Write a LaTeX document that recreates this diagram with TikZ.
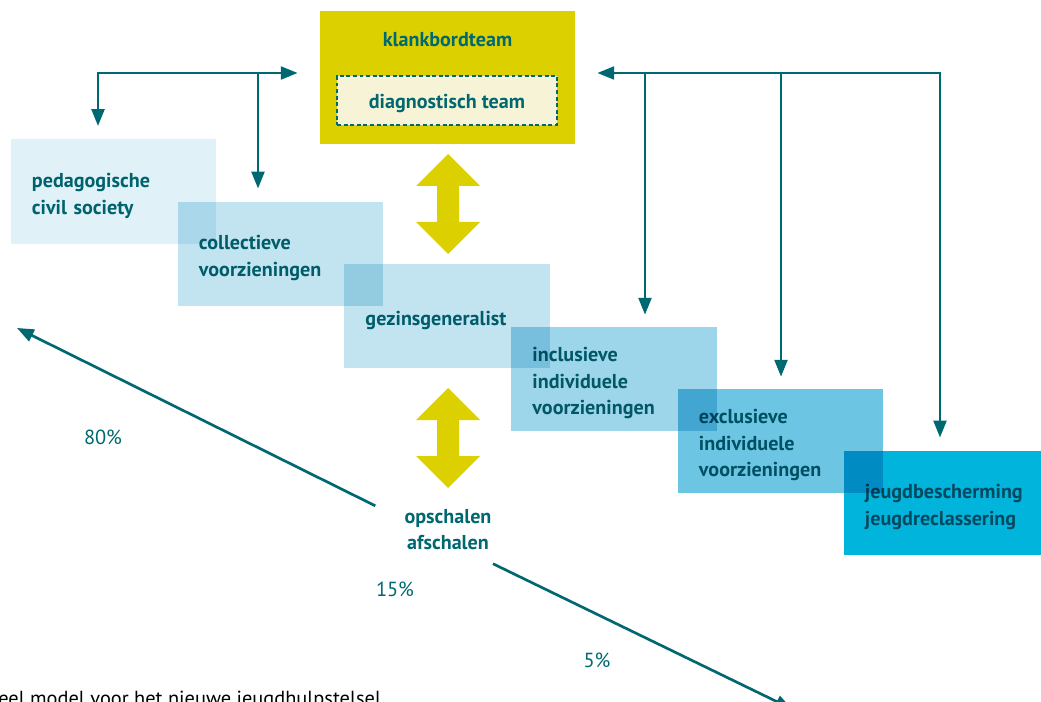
\documentclass[tikz,border=0pt]{standalone}
\usepackage{fontspec}
\setmainfont{PT Sans}
\usetikzlibrary{arrows.meta, calc}
\definecolor{lineteal}{RGB}{0,104,112}
\definecolor{boardyellow}{RGB}{221,208,0}
\definecolor{diagcream}{RGB}{247,243,214}
\definecolor{tierA}{RGB}{224,241,248}
\definecolor{tierB}{RGB}{194,228,240}
\definecolor{tierC}{RGB}{157,214,234}
\definecolor{tierD}{RGB}{108,198,227}
\definecolor{tierE}{RGB}{0,180,220}
\tikzset{
    tier/.style={rectangle, minimum width=5.125cm, minimum height=2.6cm, text width=4.075cm, inner xsep=0.525cm, align=left, text=lineteal, font=\bfseries\fontsize{14.3}{19}\selectfont, blend mode=multiply, execute at begin node={\rule{0pt}{16pt}}},
    boardbox/.style={rectangle, fill=boardyellow, minimum width=6.375cm, minimum height=3.325cm},
    boardlabel/.style={text=lineteal, font=\bfseries\fontsize{14.3}{19}\selectfont},
    diagbox/.style={rectangle, fill=diagcream, draw=lineteal, line width=1pt, dash pattern=on 2.8pt off 1.9pt, minimum width=5.5cm, minimum height=1.225cm, text=lineteal, text height=10.8pt, text depth=0pt, font=\bfseries\fontsize{14.3}{19}\selectfont},
    scalelabel/.style={align=center, text=lineteal, font=\bfseries\fontsize{14.3}{19}\selectfont},
    share/.style={text=lineteal, font=\fontsize{14.5}{17}\selectfont},
    feed/.style={line width=1.9pt, draw=lineteal, -{Triangle[length=0.42cm, width=0.32cm]}},
    feedboth/.style={feed, {Triangle[length=0.42cm, width=0.32cm]}-{Triangle[length=0.42cm, width=0.32cm]}},
    updown/.pic={\fill[boardyellow] (0,-50) -- (32,-18) -- (11,-18) -- (11,18) -- (32,18) -- (0,50) -- (-32,18) -- (-11,18) -- (-11,-18) -- (-32,-18) -- cycle;}
}
\begin{document}
\begin{tikzpicture}[x=0.025cm, y=-0.025cm]
\useasboundingbox (0,0) rectangle (1041,702);

% klankbordteam with diagnostic team inside
\node (board) [boardbox] at (447.5,77.5) {};
\node (boardname) [boardlabel] at (447.5,40) {klankbordteam};
\node (diag) [diagbox] at (447,100.5) {diagnostisch team};

% ladder of services
\node (civil) [tier, fill=tierA] at (113.5,191.5) {pedagogische\\civil society};
\node (collective) [tier, fill=tierB] at (280.5,254) {collectieve\\voorzieningen};
\node (generalist) [tier, fill=tierB] at (447,316) {gezinsgeneralist};
\node (inclusive) [tier, fill=tierC] at (614,379) {inclusieve\\individuele\\voorzieningen};
\node (exclusive) [tier, fill=tierD] at (780.5,441) {exclusieve\\individuele\\voorzieningen};
\node (youth) [tier, fill=tierE] at (946.5,503) {jeugdbescherming\\jeugdreclassering};

% yellow up/down arrows
\pic at (448,204) {updown};
\pic at (448,438) {updown};

% scaling and shares
\node (scaling) [scalelabel] at (448,529.5) {opschalen\\afschalen};
\node (share80) [share] at (103,437) {80\%};
\node (share15) [share] at (395,589) {15\%};
\node (share5) [share] at (597,660) {5\%};
\node (caption) [anchor=base west, inner sep=0pt, font=\fontsize{14.5}{17}\selectfont] at (-2,705) {eel model voor het nieuwe jeugdhulpstelsel};

% feedback lines
\coordinate (splitL) at (98,73);
\coordinate (branchL) at (258,73);
\coordinate (splitR) at (940,73);
\coordinate (branchR1) at (645,73);
\coordinate (branchR2) at (781,73);
\coordinate (up) at (17,328);
\coordinate (down) at (792,709);

\draw [feedboth, shorten <=0.33cm, shorten >=0.55cm] (splitL |- civil.north) -- (splitL) -- (splitL -| board.west);
\draw [feed, shorten >=0.33cm] (branchL) -- (branchL |- collective.north);
\draw [feedboth, shorten <=0.33cm, shorten >=0.55cm] (splitR |- youth.north) -- (splitR) -- (splitR -| board.east);
\draw [feed, shorten >=0.3cm] (branchR1) -- (branchR1 |- inclusive.north);
\draw [feed, shorten >=0.3cm] (branchR2) -- (branchR2 |- exclusive.north);

\draw [feed, shorten <=2.03cm] ([yshift=-0.31cm]scaling.center) -- (up);
\draw [feed, shorten <=1.25cm] ([yshift=-0.31cm]scaling.center) -- (down);

\end{tikzpicture}
\end{document}
